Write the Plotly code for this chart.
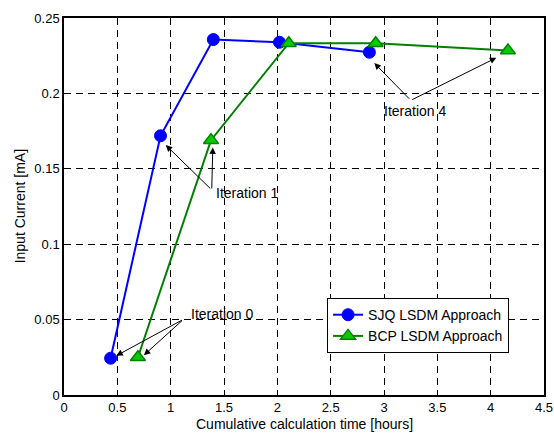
import plotly.graph_objects as go

sjq_time = [0.437, 0.905, 1.40, 2.02, 2.863]
sjq_current = [0.0244, 0.1719, 0.2357, 0.2339, 0.2273]
bcp_time = [0.693, 1.378, 2.107, 2.922, 4.162]
bcp_current = [0.025, 0.169, 0.2333, 0.2333, 0.2284]

x_ticks = [0, 0.5, 1, 1.5, 2, 2.5, 3, 3.5, 4, 4.5]
x_labels = ["0", "0.5", "1", "1.5", "2", "2.5", "3", "3.5", "4", "4.5"]
y_ticks = [0, 0.05, 0.1, 0.15, 0.2, 0.25]
y_labels = ["0", "0.05", "0.1", "0.15", "0.2", "0.25"]

x_title = "Cumulative calculation time [hours]"
y_title = "Input Current [mA]"

# annotation labels: (text, text_x, text_y, tail_x, tail_y, [(head_x, head_y), ...])
notes = [
    ("Iteration 0", 1.485, 0.0535, 1.12, 0.0502, [(0.490, 0.0260), (0.749, 0.0264)]),
    ("Iteration 1", 1.716, 0.1338, 1.385, 0.136, [(0.954, 0.1657), (1.395, 0.1642)]),
    ("Iteration 4", 3.290, 0.1882, 3.251, 0.1954, [(2.909, 0.2201), (4.053, 0.2236)]),
]

FONT = "Liberation Sans, Arial, sans-serif"
FS = 14
TFS = 13

fig = go.Figure()
fig.add_trace(go.Scatter(
    x=sjq_time, y=sjq_current, mode="lines+markers", name="SJQ LSDM Approach",
    line=dict(color="#0000ff", width=2),
    marker=dict(symbol="circle", size=12, color="#0000ff", line=dict(color="#0000ff", width=1)),
))
fig.add_trace(go.Scatter(
    x=bcp_time, y=bcp_current, mode="lines+markers", name="BCP LSDM Approach",
    line=dict(color="#008000", width=2),
    marker=dict(symbol="triangle-up", size=13, color="#00cc00", line=dict(color="#008000", width=1.5)),
))

annotations = []
for text, tx, ty, ax, ay, heads in notes:
    annotations.append(dict(x=tx, y=ty, xref="x", yref="y", text=text, showarrow=False,
                            font=dict(family=FONT, size=FS, color="#000000")))
    for hx, hy in heads:
        annotations.append(dict(x=hx, y=hy, xref="x", yref="y", ax=ax, ay=ay,
                                axref="x", ayref="y", text="", showarrow=True,
                                arrowhead=2, arrowsize=1.3, arrowwidth=1, arrowcolor="#000000",
                                standoff=0, startstandoff=0))

annotations.append(dict(x=0.5, y=-0.076, xref="paper", yref="paper", text=x_title,
                        showarrow=False, xanchor="center", yanchor="middle",
                        font=dict(family=FONT, size=FS, color="#000000")))
annotations.append(dict(x=-0.092, y=0.5, xref="paper", yref="paper", text=y_title,
                        showarrow=False, xanchor="center", yanchor="middle", textangle=-90,
                        font=dict(family=FONT, size=FS, color="#000000")))

axis_common = dict(
    showline=True, linecolor="#000000", linewidth=1.5, mirror=True,
    ticks="inside", ticklen=5, tickcolor="#000000", tickwidth=1,
    showgrid=True, gridcolor="#000000", gridwidth=1, griddash="7px,5px",
    zeroline=False, automargin=False,
    tickfont=dict(family=FONT, size=TFS, color="#000000"),
)

fig.update_layout(
    width=554, height=434,
    margin=dict(l=64, r=10, t=18, b=39),
    paper_bgcolor="#ffffff", plot_bgcolor="#ffffff",
    font=dict(family=FONT, size=FS, color="#000000"),
    xaxis=dict(range=[0, 4.5], tickvals=x_ticks, ticktext=x_labels, **axis_common),
    yaxis=dict(range=[0, 0.25], tickvals=y_ticks, ticktext=y_labels, **axis_common),
    legend=dict(x=0.548, y=0.257, xanchor="left", yanchor="top",
                bordercolor="#000000", borderwidth=1, bgcolor="#ffffff",
                font=dict(family=FONT, size=FS), tracegroupgap=0,
                itemwidth=30),
    showlegend=True,
    annotations=annotations,
)

# remove the default page margin so the figure fills the 554x434 window exactly
fig.write_html("out.html", config={"displayModeBar": False},
               post_script="document.body.style.margin='0';document.body.style.overflow='hidden';")
